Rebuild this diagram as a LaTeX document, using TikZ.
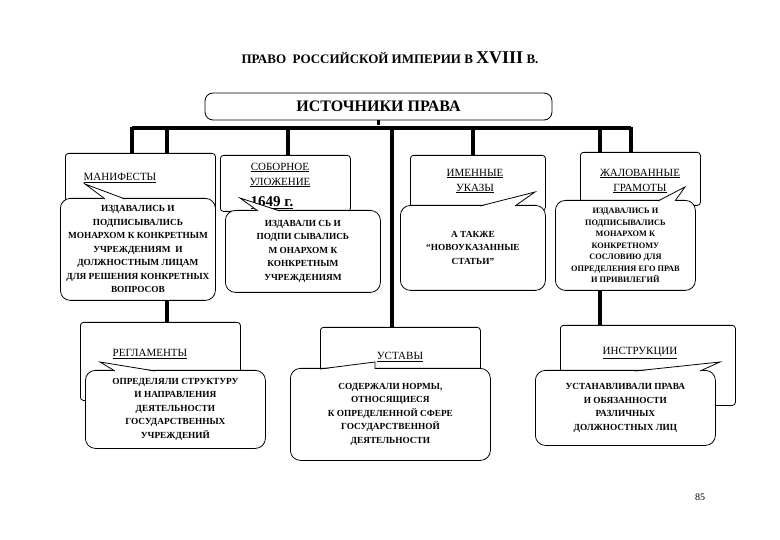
\documentclass[tikz,border=0pt]{standalone}
\usepackage{fontspec}
\setmainfont{Liberation Serif}[UprightFont=*,BoldFont=* Bold]
\begin{document}
\begin{tikzpicture}[x=1pt,y=-1pt,
  back/.style={draw,thick,fill=white,rounded corners=3pt,anchor=north west,inner sep=0pt},
  bubble/.style={draw,thick,fill=white,rounded corners=10pt,anchor=north west,inner sep=0pt},
  txt/.style={align=center,font=\rmfamily\bfseries\fontsize{9.3}{13.5}\selectfont},
  head/.style={align=center,font=\rmfamily\fontsize{11}{15}\selectfont},
  tail/.style={thick,line join=miter},
  bus/.style={line width=3.5pt}]
\useasboundingbox (0,0) rectangle (780,540);
\node[font=\rmfamily\bfseries\fontsize{13}{15}\selectfont] (title) at (390,58) {ПРАВО \ РОССИЙСКОЙ ИМПЕРИИ В {\fontsize{18}{15}\selectfont XVIII} В.};
\node[draw,thick,rounded corners=8pt,minimum width=347pt,minimum height=27pt,font=\rmfamily\bfseries\fontsize{16}{17}\selectfont] (src) at (378.5,106.5) {ИСТОЧНИКИ ПРАВА};
% bus
\coordinate (bl) at (132,128); \coordinate (br) at (631,128);
\draw[bus] (bl)--(br);
\draw[bus] (src.south) -- ++(0,5);
\foreach \x/\y in {132/153,167/323,288/155,392/327,473/155,600/326,631/152}
  \draw[bus] (\x,127) -- (\x,\y);
% MANIFESTY
\node[back,minimum width=150pt,minimum height=62pt] (m) at (65,153) {};
\node[head] (mh) at (120,178) {\underline{МАНИФЕСТЫ}};
\node[bubble,minimum width=155pt,minimum height=102pt] (mb) at (60,198) {};
\coordinate (mt) at (85,184);
\fill[white] (105,199.5)--(mt)--(125,199.5)--cycle; \draw[tail] (105,199)--(mt)--(125,199);
\node[txt] at (mb.center) {ИЗДАВАЛИСЬ И\\ПОДПИСЫВАЛИСЬ\\МОНАРХОМ К КОНКРЕТНЫМ\\УЧРЕЖДЕНИЯМ \ И\\ДОЛЖНОСТНЫМ ЛИЦАМ\\ДЛЯ РЕШЕНИЯ КОНКРЕТНЫХ\\ВОПРОСОВ};
% SOBORNOE
\node[back,minimum width=130pt,minimum height=56pt] (s) at (220,155) {};
\node[head] (sh) at (280,175) {\underline{СОБОРНОЕ}\\\underline{УЛОЖЕНИЕ}};
\node[font=\rmfamily\bfseries\fontsize{15}{16}\selectfont] (sy) at (272,203) {\underline{1649 г.}};
\node[bubble,minimum width=155pt,minimum height=82pt] (sb) at (225,210) {};
\coordinate (st) at (240,198);
\fill[white] (258,211.5)--(st)--(280,211.5)--cycle; \draw[tail] (258,211)--(st)--(280,211);
\node[txt] at (sb.center) {ИЗДАВАЛИ СЬ И\\ПОДПИ СЫВАЛИСЬ\\М ОНАРХОМ К\\КОНКРЕТНЫМ\\ УЧРЕЖДЕНИЯМ};
% IMENNYE
\node[back,minimum width=135pt,minimum height=55pt] (i) at (410,155) {};
\node[head] (ih) at (475,181) {\underline{ИМЕННЫЕ}\\\underline{УКАЗЫ}};
\node[bubble,minimum width=145pt,minimum height=85pt] (ib) at (400,205) {};
\coordinate (it) at (535,192);
\fill[white] (480,206.5)--(it)--(515,206.5)--cycle; \draw[tail] (480,206)--(it)--(515,206);
\node[txt] at (ib.center) {А ТАКЖЕ\\“НОВОУКАЗАННЫЕ\\СТАТЬИ”};
% ZHALOVANNYE
\node[back,minimum width=120pt,minimum height=53pt] (z) at (580,152) {};
\node[head] (zh) at (640,181) {\underline{ЖАЛОВАННЫЕ}\\\underline{ГРАМОТЫ}};
\node[bubble,minimum width=140pt,minimum height=90pt] (zb) at (555,200) {};
\coordinate (zt) at (685,187);
\fill[white] (658,201.5)--(zt)--(675,201.5)--cycle; \draw[tail] (658,201)--(zt)--(675,201);
\node[txt,font=\rmfamily\bfseries\fontsize{8.3}{11.5}\selectfont] at (zb.center) {ИЗДАВАЛИСЬ И\\ПОДПИСЫВАЛИСЬ\\МОНАРХОМ К\\КОНКРЕТНОМУ\\СОСЛОВИЮ ДЛЯ\\ОПРЕДЕЛЕНИЯ ЕГО ПРАВ\\И ПРИВИЛЕГИЙ};
% REGLAMENTY
\node[back,minimum width=160pt,minimum height=78pt] (r) at (80,322) {};
\node[head] (rh) at (150,354) {\underline{РЕГЛАМЕНТЫ}};
\node[bubble,minimum width=180pt,minimum height=78pt] (rb) at (85,370) {};
\coordinate (rt) at (100,362);
\fill[white] (115,371.5)--(rt)--(155,371.5)--cycle; \draw[tail] (115,371)--(rt)--(155,371);
\node[txt] at (rb.center) {ОПРЕДЕЛЯЛИ СТРУКТУРУ\\И НАПРАВЛЕНИЯ\\ДЕЯТЕЛЬНОСТИ\\ГОСУДАРСТВЕННЫХ\\УЧРЕЖДЕНИЙ};
% USTAVY
\node[back,minimum width=160pt,minimum height=73pt] (u) at (320,327) {};
\node[head] (uh) at (400,357) {\underline{УСТАВЫ}};
\node[bubble,minimum width=200pt,minimum height=92pt] (ub) at (290,368) {};
\coordinate (ut) at (375,362);
\fill[white] (320,369.5)--(ut)--(375,369.5)--cycle; \draw[tail] (320,369)--(ut)--(375,369);
\node[txt] at (ub.center) {СОДЕРЖАЛИ НОРМЫ,\\ОТНОСЯЩИЕСЯ\\К ОПРЕДЕЛЕННОЙ СФЕРЕ\\ГОСУДАРСТВЕННОЙ\\ДЕЯТЕЛЬНОСТИ};
% INSTRUKCII
\node[back,minimum width=175pt,minimum height=80pt] (n) at (560,325) {};
\node[head] (nh) at (640,353) {\underline{ИНСТРУКЦИИ}};
\node[bubble,minimum width=180pt,minimum height=75pt] (nb) at (535,370) {};
\coordinate (nt) at (720,362);
\fill[white] (635,371.5)--(nt)--(700,371.5)--cycle; \draw[tail] (635,371)--(nt)--(700,371);
\node[txt] at (nb.center) {УСТАНАВЛИВАЛИ ПРАВА\\И ОБЯЗАННОСТИ\\РАЗЛИЧНЫХ\\ДОЛЖНОСТНЫХ ЛИЦ};
\node[font=\rmfamily\fontsize{10}{12}\selectfont] (pg) at (700,497) {85};
\end{tikzpicture}
\end{document}
